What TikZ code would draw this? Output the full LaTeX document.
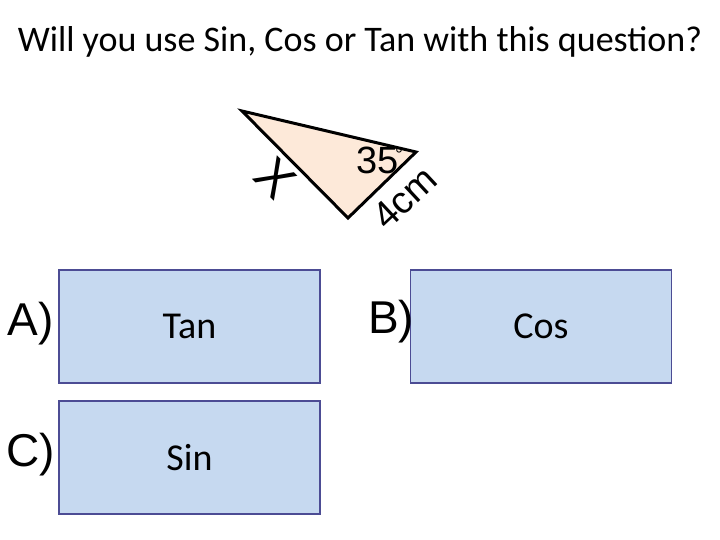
\documentclass[tikz,border=0pt]{standalone}
\usepackage{fontspec}
\setmainfont{Carlito}
\newfontfamily\arial{Liberation Sans}
\begin{document}
\begin{tikzpicture}[x=1pt,y=-1pt,
  box/.style={draw=black!30!blue!40!gray,line width=1.5pt,fill={rgb,255:red,198;green,217;blue,240},minimum width=261pt,minimum height=113pt,font=\fontsize{38}{42}\selectfont},
  lab/.style={font=\arial\fontsize{46}{48}\selectfont}]
\useasboundingbox (0,0) rectangle (720,540);
\node (title) at (360,42) {\fontsize{36}{40}\selectfont Will you use Sin, Cos or Tan with this question?};
\coordinate (p1) at (242,111);
\coordinate (p2) at (416,152);
\coordinate (p3) at (348,218);
\filldraw[fill={rgb,255:red,253;green,233;blue,217},draw=black,line width=3pt,line join=miter] (p1)--(p2)--(p3)--cycle;
\node[rotate=-45,font=\arial\fontsize{50}{50}\selectfont] (x) at (275,178) {X};
\node[font=\arial\fontsize{38}{40}\selectfont,inner sep=0pt,anchor=base] (ang) at (378,174) {35};
\node[font=\arial\fontsize{20}{20}\selectfont,inner sep=0pt] (deg) at (399,155) {°};
\node[rotate=43,font=\arial\fontsize{38}{40}\selectfont,inner sep=0pt] (cm) at (405,198) {4cm};
\node[box] (A) at (189.5,326.5) {Tan};
\node[box] (B) at (541,326.5) {Cos};
\node[box] (C) at (189.5,457.5) {Sin};
\node[lab] (la) at (31,324) {A)};
\node[lab] (lb) at (391,322) {B)};
\node[lab] (lc) at (31,455) {C)};
\end{tikzpicture}
\end{document}
